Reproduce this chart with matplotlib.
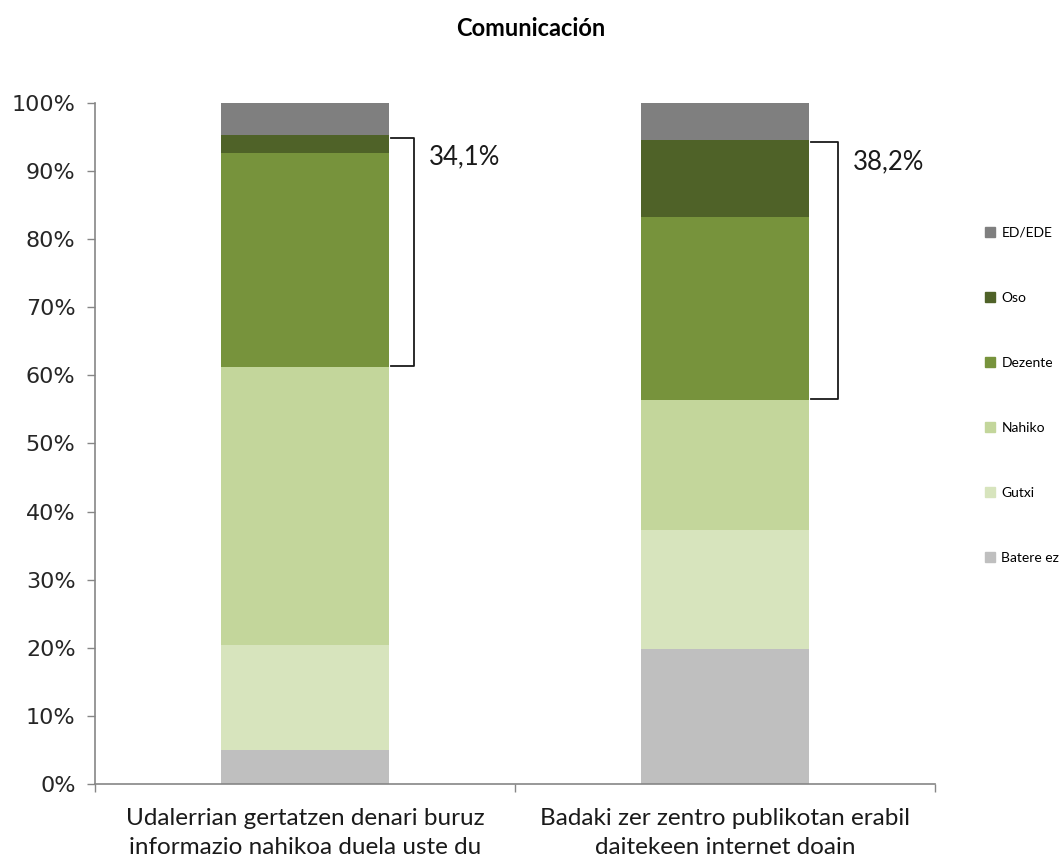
import matplotlib
matplotlib.use("Agg")
import matplotlib.pyplot as plt
import numpy as np
from matplotlib.patches import Patch

categories = [
    "Udalerrian gertatzen denari buruz\ninformazio nahikoa duela uste du",
    "Badaki zer zentro publikotan erabil\ndaitekeen internet doain",
]
series = ["Batere ez", "Gutxi", "Nahiko", "Dezente", "Oso", "ED/EDE"]
batere_ez = [5.0, 19.8]
gutxi = [15.4, 17.5]
nahiko = [40.8, 19.1]
dezente = [31.4, 26.8]
oso = [2.7, 11.4]
ed_ede = [4.7, 5.4]
colors = ["#BFBFBF", "#D7E4BD", "#C3D69B", "#77933C", "#4F6228", "#7F7F7F"]

plt.rcParams["font.family"] = ["Lato", "DejaVu Sans"]

fig = plt.figure(figsize=(10.61, 8.63), dpi=100)
ax = fig.add_axes([0.0895, 0.0915, 0.7915, 0.7892])

values = [batere_ez, gutxi, nahiko, dezente, oso, ed_ede]
x = np.arange(len(categories))
bottom = np.zeros(len(categories))
for name, vals, col in zip(series, values, colors):
    ax.bar(x, vals, 0.4, bottom=bottom, color=col, label=name, linewidth=0)
    bottom += np.array(vals)

# brackets showing Dezente + Oso
low = np.array(batere_ez) + np.array(gutxi) + np.array(nahiko)
high = low + np.array(dezente) + np.array(oso)
for i in range(len(categories)):
    x0 = i + 0.205
    x1 = i + 0.26 + 0.01 * i
    ax.plot([x0, x1, x1, x0], [high[i] - 0.4, high[i] - 0.4, low[i] + 0.2, low[i] + 0.2],
            color="#1a1a1a", lw=1.3, solid_joinstyle="round", clip_on=False)
    total = dezente[i] + oso[i]
    ax.text(x1 + 0.035, high[i] - 3.2, f"{total:.1f}%".replace(".", ","),
            fontsize=18.5, va="center", ha="left", color="#1a1a1a")

ax.set_xlim(-0.5, 1.5)
ax.set_ylim(0, 100)
ax.set_yticks(np.arange(0, 101, 10))
ax.set_yticklabels([f"{v}%" for v in range(0, 101, 10)], fontsize=16, family="DejaVu Sans",
                   color="#262626")
ax.set_xticks(x)
ax.set_xticklabels(categories, fontsize=17.5, linespacing=1.5, color="#1a1a1a")
ax.set_xticks([-0.5, 0.5, 1.5], minor=True)
ax.tick_params(axis="x", which="major", length=0, pad=17)
ax.tick_params(axis="x", which="minor", length=6, color="#868686", width=1)
ax.tick_params(axis="y", length=6, color="#868686", width=1, pad=8)

for s in ["top", "right"]:
    ax.spines[s].set_visible(False)
for s in ["left", "bottom"]:
    ax.spines[s].set_color("#868686")
    ax.spines[s].set_linewidth(1.2)

handles = [Patch(color=c, label=n) for n, c in zip(series, colors)][::-1]
fig.legend(handles=handles, loc="center left", bbox_to_anchor=(0.928, 0.5417),
           frameon=False, fontsize=10, handlelength=0.75, handleheight=0.75,
           handletextpad=0.45, labelspacing=3.82, borderaxespad=0, borderpad=0)

fig.text(0.5, 0.967, "Comunicación", ha="center", va="center", fontsize=17, fontweight="bold")

fig.savefig("out.png", dpi=100)
